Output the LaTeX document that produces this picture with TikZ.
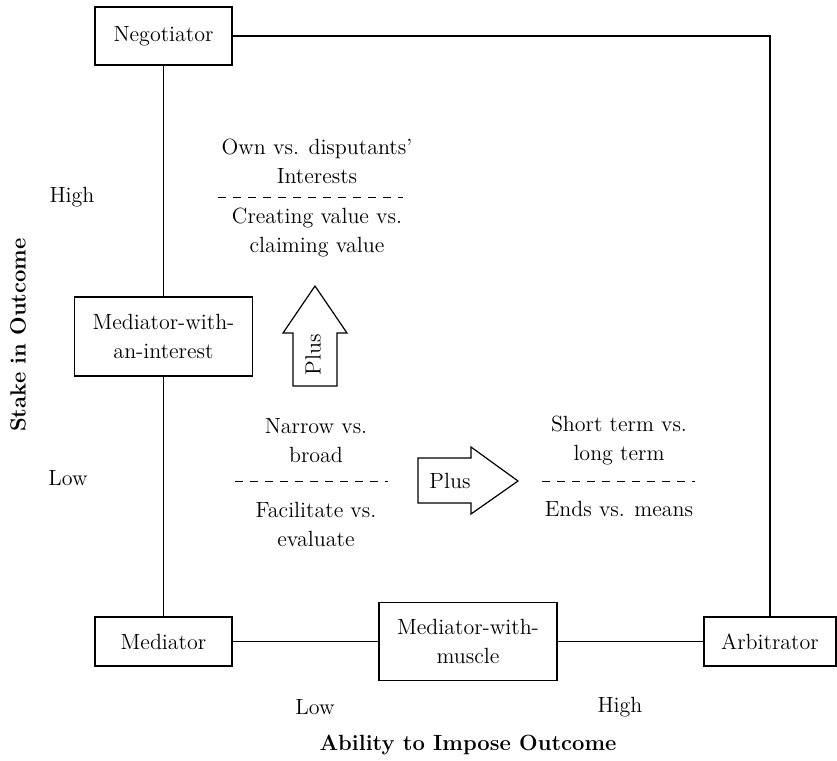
\documentclass[tikz,border=0pt]{standalone}
\usepackage{tikz}
\usetikzlibrary{%
  calc,
  positioning,
}

\begin{document}
\begin{tikzpicture}[
  x=0.5pt, y=-0.5pt,
  font=\fontsize{11}{14.5}\selectfont,
  role/.style={draw, line width=0.7pt, inner sep=0pt, align=center},
  link/.style={line width=0.7pt},
  note/.style={align=center, inner sep=0pt},
  split/.style={dashed, dash pattern=on 4pt off 3.5pt, line width=0.5pt},
  bigarrow/.style={draw, line width=0.6pt, fill=white},
  axis/.style={font=\fontsize{11}{14.5}\selectfont\bfseries},
]
  \useasboundingbox (0,0) rectangle (837,761);

  % roles
  \node[role, minimum width=68.5pt, minimum height=29pt]
    (neg) at (163.5,36) {Negotiator};
  \node[role, minimum width=89pt, minimum height=39.5pt]
    (mwi) at (163.5,336.5) {Mediator-with-\\an-interest};
  \node[role, minimum width=68.5pt, minimum height=24.5pt]
    (med) at (163.5,641.5) {Mediator};
  \node[role, minimum width=89pt, minimum height=39pt]
    (mus) at (468,641.5) {Mediator-with-\\muscle};
  \node[role, minimum width=66pt, minimum height=24.5pt]
    (arb) at (770,641.5) {Arbitrator};

  \draw[link] (neg) -- (mwi);
  \draw[link] (mwi) -- (med);
  \draw[link] (med) -- (mus);
  \draw[link] (mus) -- (arb);
  \draw[link] (neg.east) -| (arb.north);

  % dimensions
  \node[note] (own) at (317,161.5) {Own vs. disputants'\\Interests};
  \draw[split] (218,197) -- (403,197);
  \node[note] (create) at (317,233) {Creating value vs.\\claiming value};

  \node[note] (narrow) at (316,441) {Narrow vs.\\broad};
  \draw[split] (235,481) -- (388,481);
  \node[note] (facil) at (316,524) {Facilitate vs.\\evaluate};

  \node[note] (short) at (619,441) {Short term vs.\\long term};
  \draw[split] (542,481) -- (695,481);
  \node[note] (ends) at (619,509) {Ends vs. means};

  % plus arrows
  \draw[bigarrow] (293,386) -- (293,333) -- (283,333) -- (315,286)
    -- (347,333) -- (337,333) -- (337,386) -- cycle;
  \node[note, rotate=90] (plusup) at (313,355) {Plus};

  \draw[bigarrow] (418,458) -- (471,458) -- (471,447) -- (518,481)
    -- (471,514) -- (471,503) -- (418,503) -- cycle;
  \node[note] (plusright) at (450,481) {Plus};

  % axes
  \node[note] (yhigh) at (72,197) {High};
  \node[note] (ylow) at (68,478) {Low};
  \node[note, axis, rotate=90] (ylabel) at (18,335) {Stake in Outcome};
  \node[note] (xlow) at (315,707) {Low};
  \node[note] (xhigh) at (620,707) {High};
  \node[note, axis] (xlabel) at (468,745) {Ability to Impose Outcome};
\end{tikzpicture}
\end{document}
